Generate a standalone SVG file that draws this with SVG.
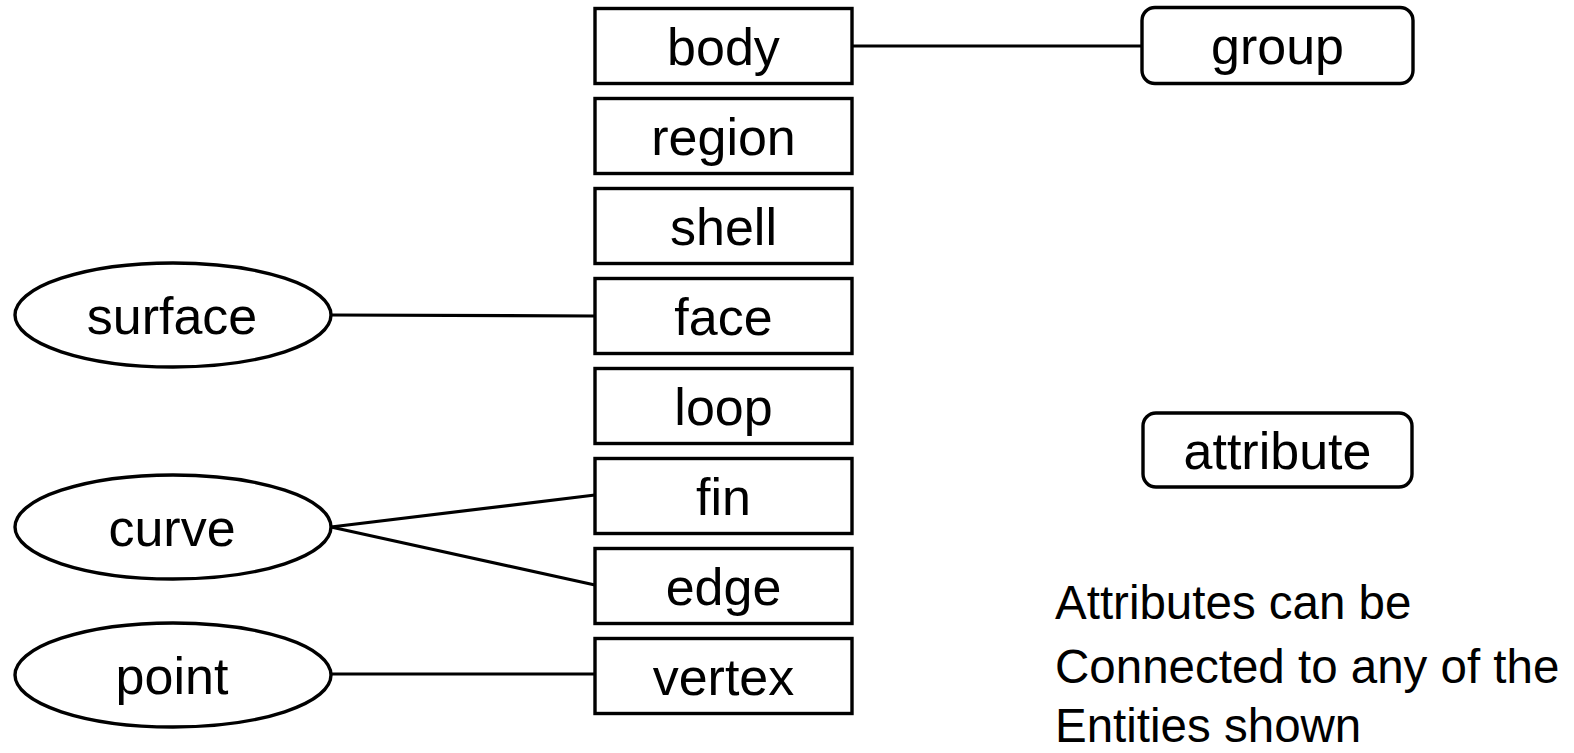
<svg xmlns="http://www.w3.org/2000/svg" width="1574" height="753" viewBox="0 0 1574 753">
  <style>
    .box { fill: #ffffff; stroke: #000000; stroke-width: 3.4; }
    .ell { fill: #ffffff; stroke: #000000; stroke-width: 3.4; }
    .link { fill: none; stroke: #000000; stroke-width: 3.2; }
    .lbl { font-family: "Liberation Sans", Arial, sans-serif; font-size: 52px; fill: #000000; text-anchor: middle; }
    .note { font-family: "Liberation Sans", Arial, sans-serif; font-size: 47.5px; fill: #000000; }
  </style>
  <rect width="1574" height="753" fill="#ffffff"/>

  <!-- connectors -->
  <g id="connectors">
    <line class="link" x1="852" y1="46" x2="1142" y2="46"/>
    <line class="link" x1="331" y1="315" x2="595" y2="316"/>
    <line class="link" x1="331" y1="527" x2="595" y2="495"/>
    <line class="link" x1="331" y1="527" x2="595" y2="585"/>
    <line class="link" x1="331" y1="674" x2="595" y2="674"/>
  </g>

  <!-- topology stack -->
  <g id="body"><rect class="box" x="595" y="8.5" width="257" height="75"/><text class="lbl" x="723.5" y="64.5">body</text></g>
  <g id="region"><rect class="box" x="595" y="98.5" width="257" height="75"/><text class="lbl" x="723.5" y="154.5">region</text></g>
  <g id="shell"><rect class="box" x="595" y="188.5" width="257" height="75"/><text class="lbl" x="723.5" y="244.5">shell</text></g>
  <g id="face"><rect class="box" x="595" y="278.5" width="257" height="75"/><text class="lbl" x="723.5" y="334.5">face</text></g>
  <g id="loop"><rect class="box" x="595" y="368.5" width="257" height="75"/><text class="lbl" x="723.5" y="424.5">loop</text></g>
  <g id="fin"><rect class="box" x="595" y="458.5" width="257" height="75"/><text class="lbl" x="723.5" y="514.5">fin</text></g>
  <g id="edge"><rect class="box" x="595" y="548.5" width="257" height="75"/><text class="lbl" x="723.5" y="604.5">edge</text></g>
  <g id="vertex"><rect class="box" x="595" y="638.5" width="257" height="75"/><text class="lbl" x="723.5" y="694.5">vertex</text></g>

  <!-- geometry -->
  <g id="surface"><ellipse class="ell" cx="173" cy="315" rx="158" ry="52"/><text class="lbl" x="172" y="334">surface</text></g>
  <g id="curve"><ellipse class="ell" cx="173" cy="527" rx="158" ry="52"/><text class="lbl" x="172" y="546">curve</text></g>
  <g id="point"><ellipse class="ell" cx="173" cy="675" rx="158" ry="52"/><text class="lbl" x="172" y="694">point</text></g>

  <!-- group and attribute -->
  <g id="group"><rect class="box" x="1142" y="7.5" width="271" height="76" rx="13"/><text class="lbl" x="1277.5" y="64">group</text></g>
  <g id="attribute"><rect class="box" x="1143" y="413" width="269" height="74" rx="13"/><text class="lbl" x="1277.5" y="469">attribute</text></g>

  <g id="note">
    <text class="note" x="1055" y="619">Attributes can be</text>
    <text class="note" x="1055" y="683">Connected to any of the</text>
    <text class="note" x="1055" y="742">Entities shown</text>
  </g>
</svg>
